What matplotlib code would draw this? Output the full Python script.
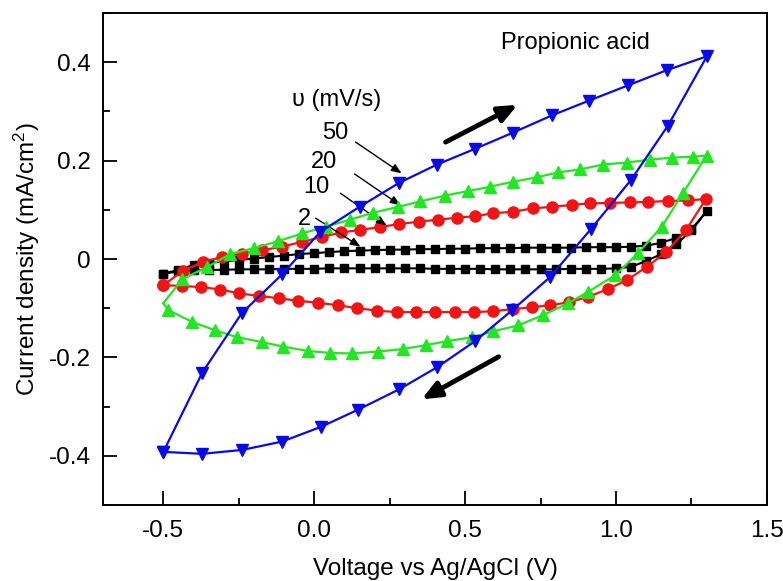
import matplotlib
matplotlib.use("Agg")
import matplotlib.pyplot as plt
from matplotlib.ticker import MultipleLocator

plt.rcParams['font.family'] = ['Liberation Sans', 'DejaVu Sans']
plt.rcParams['mathtext.fontset'] = 'custom'
plt.rcParams['mathtext.rm'] = 'Liberation Sans'
plt.rcParams['mathtext.it'] = 'Liberation Sans:italic'
plt.rcParams['axes.unicode_minus'] = False

# 50 mV/s : forward sweep then reverse sweep
v50 = [-0.500, -0.371, -0.240, -0.106, 0.020, 0.150, 0.282, 0.407, 0.533, 0.659,
       0.788, 0.911, 1.040, 1.169, 1.301,
       1.172, 1.050, 0.917, 0.781, 0.656, 0.533, 0.407, 0.281, 0.146, 0.023,
       -0.106, -0.238, -0.371, -0.500]
i50 = [-0.392, -0.231, -0.110, -0.031, 0.055, 0.106, 0.155, 0.192, 0.224, 0.257,
       0.292, 0.322, 0.353, 0.384, 0.412,
       0.271, 0.161, 0.061, -0.037, -0.104, -0.167, -0.220, -0.265, -0.306, -0.341,
       -0.371, -0.388, -0.396, -0.392]

# 20 mV/s (first and last point is the turning vertex, drawn without marker)
v20 = [-0.500, -0.437, -0.354, -0.278, -0.200, -0.120, -0.040, 0.040, 0.119, 0.195,
       0.278, 0.351, 0.434, 0.510, 0.583, 0.659, 0.738, 0.808, 0.881, 0.957,
       1.036, 1.113, 1.185, 1.255, 1.300,
       1.222, 1.152, 1.073, 0.997, 0.907, 0.841, 0.758, 0.676, 0.593, 0.523,
       0.440, 0.371, 0.295, 0.212, 0.126, 0.053, -0.020, -0.103, -0.172, -0.255,
       -0.328, -0.404, -0.483, -0.500]
i20 = [-0.090, -0.041, -0.016, 0.010, 0.022, 0.036, 0.052, 0.066, 0.080, 0.094,
       0.106, 0.117, 0.129, 0.138, 0.147, 0.157, 0.166, 0.176, 0.182, 0.192,
       0.196, 0.202, 0.206, 0.208, 0.210,
       0.134, 0.066, 0.012, -0.033, -0.067, -0.090, -0.114, -0.135, -0.147, -0.159,
       -0.167, -0.175, -0.183, -0.188, -0.192, -0.191, -0.187, -0.178, -0.169, -0.159,
       -0.145, -0.128, -0.104, -0.090]

# 10 mV/s
v10 = [-0.500, -0.434, -0.368, -0.305, -0.240, -0.172, -0.106, -0.040, 0.026, 0.090,
       0.152, 0.219, 0.281, 0.348, 0.411, 0.474, 0.533, 0.593, 0.659, 0.725,
       0.788, 0.854, 0.914, 0.980, 1.046, 1.106, 1.172, 1.238, 1.298,
       1.232, 1.166, 1.102, 1.036, 0.974, 0.907, 0.844, 0.781, 0.722, 0.659,
       0.593, 0.530, 0.467, 0.401, 0.338, 0.275, 0.209, 0.142, 0.079, 0.013,
       -0.053, -0.116, -0.182, -0.248, -0.311, -0.374, -0.437, -0.500]
i10 = [-0.053, -0.024, -0.006, 0.004, 0.011, 0.018, 0.025, 0.035, 0.045, 0.054,
       0.059, 0.065, 0.071, 0.076, 0.080, 0.084, 0.087, 0.093, 0.096, 0.103,
       0.106, 0.110, 0.113, 0.114, 0.115, 0.116, 0.118, 0.119, 0.122,
       0.059, 0.014, -0.016, -0.043, -0.061, -0.077, -0.088, -0.094, -0.098, -0.102,
       -0.106, -0.108, -0.108, -0.108, -0.108, -0.108, -0.105, -0.100, -0.094, -0.089,
       -0.085, -0.080, -0.075, -0.070, -0.062, -0.057, -0.055, -0.053]

# 2 mV/s
v2_fwd = [-0.50, -0.45, -0.40, -0.35, -0.30, -0.25, -0.20, -0.15, -0.10, -0.05,
          0.00, 0.05, 0.10, 0.15, 0.20, 0.25, 0.30, 0.35, 0.40, 0.45,
          0.50, 0.55, 0.60, 0.65, 0.70, 0.75, 0.80, 0.85, 0.90, 0.95,
          1.00, 1.05, 1.10, 1.15, 1.20, 1.25, 1.30]
i2_fwd = [-0.030, -0.022, -0.012, -0.008, -0.005, -0.002, 0.001, 0.004, 0.007, 0.010,
          0.012, 0.014, 0.016, 0.017, 0.018, 0.019, 0.019, 0.020, 0.020, 0.021,
          0.021, 0.022, 0.022, 0.022, 0.023, 0.023, 0.023, 0.023, 0.024, 0.024,
          0.024, 0.025, 0.027, 0.033, 0.043, 0.060, 0.097]
# reverse sweep, 1.25 V back down to -0.50 V
i2_rev = [0.058, 0.030, 0.010, -0.004, -0.016, -0.019, -0.020, -0.020, -0.020, -0.021,
          -0.021, -0.021, -0.021, -0.021, -0.020, -0.020, -0.020, -0.020, -0.019, -0.019,
          -0.019, -0.019, -0.019, -0.019, -0.019, -0.020, -0.020, -0.020, -0.021, -0.021,
          -0.021, -0.022, -0.022, -0.023, -0.025, -0.030]
v2 = v2_fwd + v2_fwd[::-1][1:]
i2 = i2_fwd + i2_rev

x_ticks = [-0.5, 0.0, 0.5, 1.0, 1.5]
x_labels = ['-0.5', '0.0', '0.5', '1.0', '1.5']
y_ticks = [-0.4, -0.2, 0.0, 0.2, 0.4]
y_labels = ['-0.4', '-0.2', '0', '0.2', '0.4']

# rate labels: text, text position, arrow start, arrow tip
rate_labels = [('50', (0.070, 0.257), (0.129, 0.241), (0.297, 0.171)),
               ('20', (0.033, 0.198), (0.126, 0.176), (0.293, 0.106)),
               ('10', (0.007, 0.147), (0.079, 0.137), (0.247, 0.065)),
               ('2', (-0.033, 0.082), (-0.003, 0.086), (0.161, 0.022))]

fig = plt.figure(figsize=(7.83, 5.81), dpi=100)
ax = fig.add_axes([0.1315, 0.1308, 0.848, 0.8468])

blue = '#0a0ae6'
red = '#f01414'
green = '#22e622'

ax.plot(v2, i2, color='black', lw=1.5, marker='s', ms=6, zorder=2)
ax.plot(v10, i10, color=red, lw=1.6, marker='o', ms=8, zorder=3)
ax.plot(v20, i20, color=green, lw=1.6, marker='^', ms=8, zorder=4,
        markevery=list(range(1, len(v20) - 1)))
ax.plot(v50, i50, color=blue, lw=1.6, marker='v', ms=9, zorder=5)

ax.set_xlim(-0.7, 1.5)
ax.set_ylim(-0.5, 0.5)
ax.set_xticks(x_ticks)
ax.set_xticklabels(x_labels)
ax.set_yticks(y_ticks)
ax.set_yticklabels(y_labels)
ax.xaxis.set_minor_locator(MultipleLocator(0.25))
ax.yaxis.set_minor_locator(MultipleLocator(0.1))
ax.tick_params(which='major', direction='in', length=10, width=1.3, labelsize=17.5)
ax.tick_params(axis='x', which='major', pad=11)
ax.tick_params(axis='y', which='major', pad=9)
ax.tick_params(which='minor', direction='in', length=5, width=1.3)
for s in ax.spines.values():
    s.set_linewidth(1.4)

ax.set_xlabel('Voltage vs Ag/AgCl (V)', fontsize=17.5, labelpad=11)
ax.set_ylabel('Current density (mA/cm$^2$)', fontsize=17.5, labelpad=5)

ax.text(0.864, 0.439, 'Propionic acid', fontsize=17, ha='center', va='center')
ax.text(0.073, 0.324, 'υ (mV/s)', fontsize=17, ha='center', va='center')

for txt, pos, start, tip in rate_labels:
    ax.text(pos[0], pos[1], txt, fontsize=17, ha='center', va='center')
    ax.annotate('', xy=tip, xytext=start,
                arrowprops=dict(arrowstyle='-|>,head_length=0.5,head_width=0.2',
                                color='black', lw=1.0, mutation_scale=12))

# sweep direction arrows
ax.annotate('', xy=(0.682, 0.316), xytext=(0.427, 0.235),
            arrowprops=dict(arrowstyle='-|>,head_length=0.7,head_width=0.3',
                            color='black', lw=3.5, mutation_scale=16))
ax.annotate('', xy=(0.348, -0.288), xytext=(0.619, -0.196),
            arrowprops=dict(arrowstyle='-|>,head_length=0.7,head_width=0.3',
                            color='black', lw=3.5, mutation_scale=16))

fig.savefig('out.png', dpi=100)
